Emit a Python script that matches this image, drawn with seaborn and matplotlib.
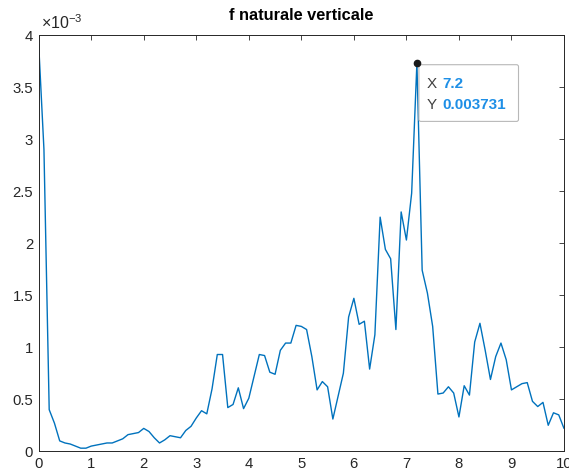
import numpy as np
import pandas as pd
import matplotlib
matplotlib.use("Agg")
import matplotlib.pyplot as plt
import matplotlib.transforms as mtransforms
from matplotlib.patches import FancyBboxPatch
import seaborn as sns

# Spectrum amplitude (units of 1e-3), sampled every 0.1 from 0 to 10
amplitude_e3 = [
    3.91, 2.90, 0.40, 0.27, 0.10, 0.08, 0.07, 0.05, 0.03, 0.03,
    0.05, 0.06, 0.07, 0.08, 0.08, 0.10, 0.12, 0.16, 0.17, 0.18,
    0.22, 0.19, 0.13, 0.08, 0.11, 0.15, 0.14, 0.13, 0.20, 0.24,
    0.32, 0.39, 0.36, 0.60, 0.93, 0.93, 0.42, 0.45, 0.61, 0.41,
    0.51, 0.72, 0.93, 0.92, 0.76, 0.74, 0.97, 1.04, 1.04, 1.21,
    1.20, 1.17, 0.91, 0.59, 0.67, 0.62, 0.31, 0.53, 0.75, 1.29,
    1.47, 1.22, 1.25, 0.79, 1.12, 2.25, 1.94, 1.85, 1.17, 2.30,
    2.03, 2.48, 3.731, 1.74, 1.52, 1.20, 0.55, 0.56, 0.62, 0.56,
    0.33, 0.63, 0.54, 1.05, 1.23, 0.97, 0.69, 0.91, 1.04, 0.88,
    0.59, 0.62, 0.65, 0.66, 0.48, 0.43, 0.47, 0.25, 0.37, 0.35,
    0.22,
]
freq_step = 0.1
tip_freq = 7.2
x_ticks = list(range(0, 11))
y_ticks_e3 = [0, 0.5, 1, 1.5, 2, 2.5, 3, 3.5, 4]
title_text = "f naturale verticale"

freq = np.round(np.arange(len(amplitude_e3)) * freq_step, 1)
amplitude = np.array(amplitude_e3) * 1e-3
df = pd.DataFrame({"freq": freq, "amp": amplitude})

sns.set_theme(style="white")
plt.rcParams["font.family"] = ["Liberation Sans", "DejaVu Sans"]
plt.rcParams["mathtext.fontset"] = "custom"
plt.rcParams["mathtext.rm"] = "Liberation Sans"
plt.rcParams["mathtext.it"] = "Liberation Sans:italic"
plt.rcParams["mathtext.bf"] = "Liberation Sans:bold"

axis_col = "#262626"
line_col = "#0072BD"

fig = plt.figure(figsize=(5.69, 4.75), dpi=100)
ax = fig.add_axes([0.0680, 0.0499, 0.9232, 0.8764])

sns.lineplot(data=df, x="freq", y="amp", ax=ax, color=line_col,
             linewidth=1.0, estimator=None, legend=False)

ax.set_xlim(0, 10)
ax.set_ylim(0, 4e-3)
ax.set_xticks(x_ticks)
ax.set_xticklabels([str(t) for t in x_ticks])
ax.set_yticks([v * 1e-3 for v in y_ticks_e3])
ax.set_yticklabels([f"{v:g}" for v in y_ticks_e3])
ax.set_xlabel("")
ax.set_ylabel("")
ax.tick_params(direction="in", length=3.6, width=0.6, top=True, right=True,
               colors=axis_col, labelsize=10.7, pad=4)
for sp in ax.spines.values():
    sp.set_visible(True)
    sp.set_color(axis_col)
    sp.set_linewidth(0.7)

ax.set_title(title_text, fontweight="bold", fontsize=11.8, color="black", pad=10.5)

# exponent label for the y axis
exp_trans = ax.transAxes + mtransforms.ScaledTranslation(2 / 100, 3 / 100, fig.dpi_scale_trans)
ax.text(0, 1, r"$\times\mathregular{10^{-3}}$", transform=exp_trans,
        ha="left", va="bottom", fontsize=11.5, color=axis_col)

# data tip on the resonance peak
idx = int(np.argmin(np.abs(freq - tip_freq)))
px, py = freq[idx], amplitude[idx]
ax.plot([px], [py], "o", color="#1a1a1a", ms=4.5, zorder=7, clip_on=False)

tip_trans = mtransforms.Affine2D() + mtransforms.ScaledTranslation(px, py, ax.transData)
box = FancyBboxPatch((2, -58.4), 99.6, 56.7,
                     boxstyle="round,pad=0,rounding_size=2",
                     transform=tip_trans, facecolor="white",
                     edgecolor="#b8b8b8", linewidth=0.8, zorder=6)
ax.add_artist(box)
tip_font = 11
ax.text(10, -21, "X", transform=tip_trans, ha="left", va="center",
        fontsize=tip_font, color="#404040", zorder=8)
ax.text(25.6, -21, f"{px:g}", transform=tip_trans, ha="left", va="center",
        fontsize=tip_font, color="#1E8FE6", fontweight="bold", zorder=8)
ax.text(10, -42, "Y", transform=tip_trans, ha="left", va="center",
        fontsize=tip_font, color="#404040", zorder=8)
ax.text(25.6, -42, f"{py:.6f}", transform=tip_trans, ha="left", va="center",
        fontsize=tip_font, color="#1E8FE6", fontweight="bold", zorder=8)

fig.savefig("out.png", dpi=100)
